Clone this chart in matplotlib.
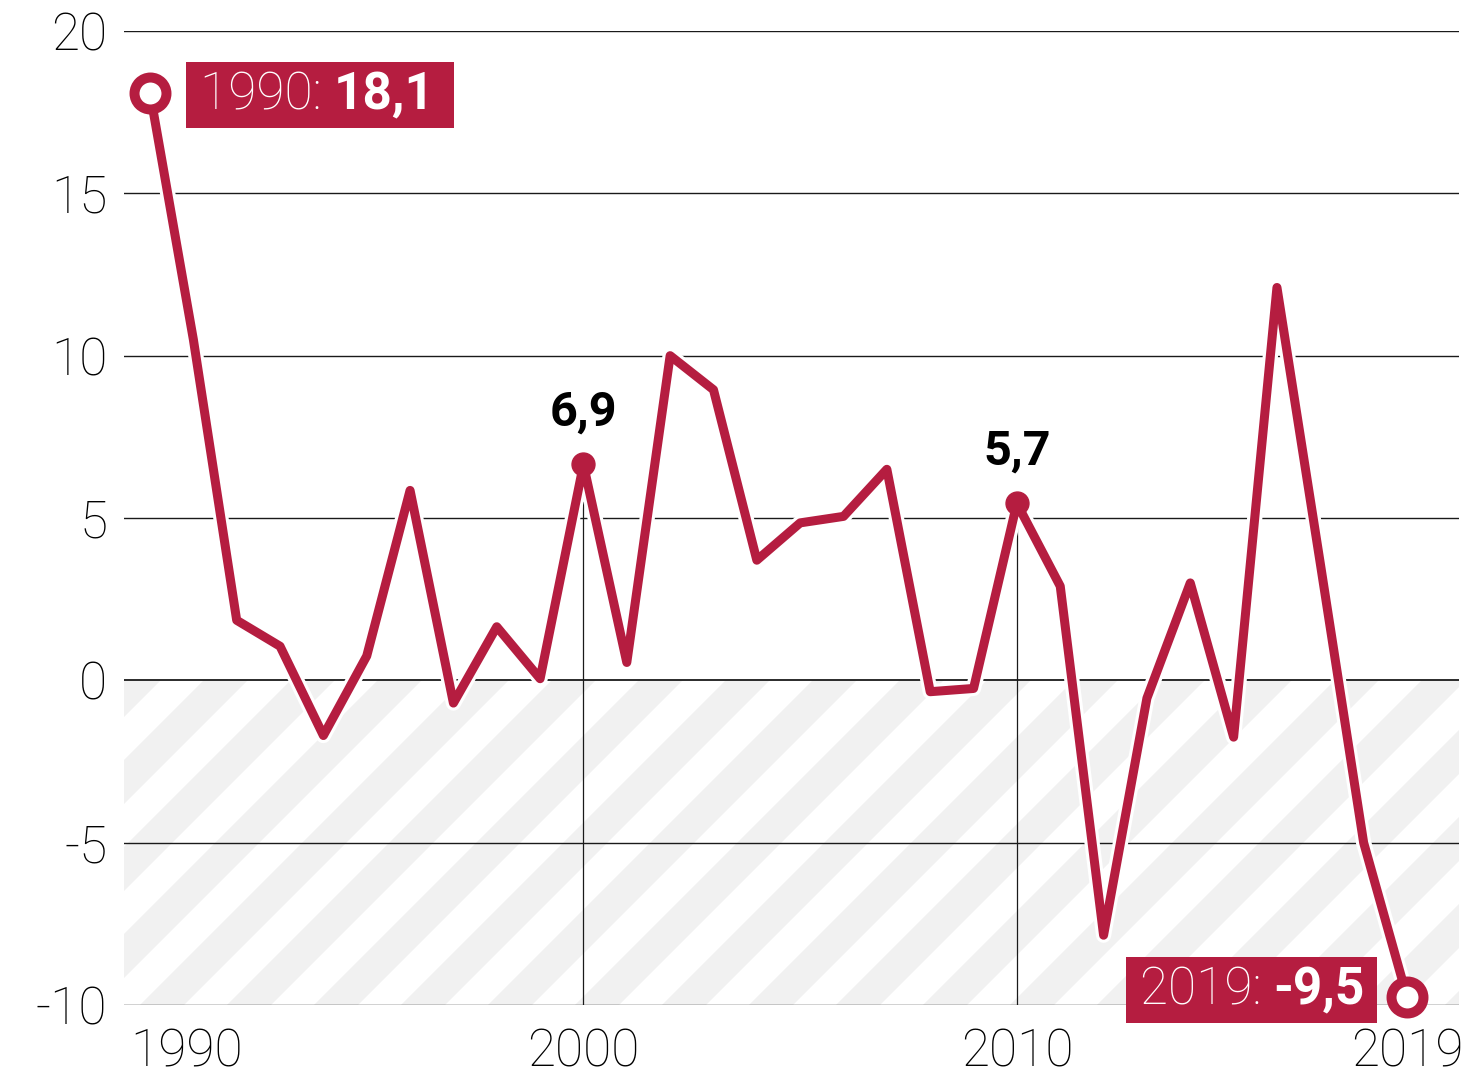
import matplotlib
matplotlib.use('Agg')
import matplotlib.pyplot as plt
import matplotlib.patheffects as pe
from matplotlib.patches import Rectangle
from matplotlib.collections import PolyCollection
from matplotlib.transforms import IdentityTransform, ScaledTranslation

# ---------------- data ----------------
years = list(range(1990, 2020))
values = [18.1, 10.5, 1.85, 1.05, -1.7, 0.75, 5.85, -0.7, 1.65, 0.05,
          6.65, 0.55, 10.0, 8.95, 3.7, 4.85, 5.05, 6.5, -0.35, -0.25,
          5.45, 2.9, -7.85, -0.55, 3.0, -1.75, 12.1, 3.6, -5.0, -9.75]
y_ticks = [-10, -5, 0, 5, 10, 15, 20]
x_ticks = [1990, 2000, 2010, 2019]
callout_years = [2000, 2010]
callout_labels = ['6,9', '5,7']
end_years = [1990, 2019]
end_prefix = ['1990: ', '2019: ']
end_value_text = ['18,1', '-9,5']

RED = '#B51D40'
GRID = '#1a1a1a'
HATCH = '#f1f1f1'
FAM = ['Roboto', 'DejaVu Sans']

W, H, DPI = 1469, 1075, 100
fig = plt.figure(figsize=(W / DPI, H / DPI), dpi=DPI)
fig.patch.set_facecolor('white')
ax_l, ax_r, ax_t, ax_b = 124, 1459, 31, 1005
ax = fig.add_axes([ax_l / W, (H - ax_b) / H, (ax_r - ax_l) / W, (ax_b - ax_t) / H])
XMIN, XMAX = 1989.40, 2020.2
ax.set_xlim(XMIN, XMAX)
ax.set_ylim(-10, 20)
for s in ax.spines.values():
    s.set_visible(False)
ax.set_facecolor('none')

val = dict(zip(years, values))

# ------------- hatched negative zone -------------
clip_rect = Rectangle((XMIN, -10), XMAX - XMIN, 10, facecolor='white',
                      edgecolor='none', zorder=0)
ax.add_patch(clip_rect)
fig.canvas.draw()
yb = ax.transData.transform((1990, -10))[1]
yz = ax.transData.transform((1990, 0))[1]
period = 87.0
gw = 44.0
hh = yz - yb
polys = []
c = 140.0 - period * 6
while c < ax_r + period:
    polys.append([(c, yb), (c + gw, yb), (c + gw + hh, yz), (c + hh, yz)])
    c += period
pc = PolyCollection(polys, facecolors=HATCH, edgecolors='none',
                    transform=IdentityTransform(), zorder=1)
ax.add_collection(pc)
pc.set_clip_path(clip_rect)

# ------------- grid -------------
for yv in y_ticks:
    ax.axhline(yv, color=GRID, lw=1.0 if yv != 0 else 1.3, zorder=2)

# vertical reference lines
ax.vlines(callout_years, -10, [val[y] for y in callout_years], color=GRID,
          lw=0.9, zorder=3)

# ------------- main line -------------
ax.plot(years, values, color=RED, lw=6.5, solid_joinstyle='round',
        solid_capstyle='round', zorder=4, clip_on=False,
        path_effects=[pe.Stroke(linewidth=11, foreground='white'), pe.Normal()])

ax.plot(callout_years, [val[y] for y in callout_years], 'o', ms=16.5,
        color=RED, zorder=5)
ax.plot(end_years, [val[y] for y in end_years], 'o', ms=23, mfc='white',
        mec=RED, mew=7.2, zorder=6, clip_on=False)

for yr, lab in zip(callout_years, callout_labels):
    ax.annotate(lab, (yr, val[yr]), xytext=(0, 39), textcoords='offset pixels',
                ha='center', va='baseline', fontsize=35, fontweight='bold',
                family=FAM, color='black', zorder=7)

# ------------- ticks -------------
ax.set_yticks(y_ticks)
ax.set_yticklabels([str(v) for v in y_ticks])
ax.set_xticks(x_ticks)
ax.set_xticklabels([str(v) for v in x_ticks])
ax.tick_params(axis='both', length=0, labelsize=37)
ax.tick_params(axis='y', pad=12)
ax.tick_params(axis='x', pad=16)
for t in ax.get_yticklabels() + ax.get_xticklabels():
    t.set_family(FAM)
    t.set_fontweight('light')
xl = ax.get_xticklabels()
xl[0].set_ha('left')
xl[0].set_transform(xl[0].get_transform() + ScaledTranslation(-20 / DPI, 0, fig.dpi_scale_trans))

# ------------- end labels -------------
boxes = []
t1 = ax.annotate(end_prefix[0], (end_years[0], val[end_years[0]]), xytext=(50, -17),
                 textcoords='offset pixels', ha='left', va='baseline', fontsize=37,
                 fontweight='light', family=FAM, color='white', zorder=9,
                 annotation_clip=False)
t2 = ax.annotate(end_value_text[0], xy=(1, 0), xycoords=t1, ha='left', va='bottom',
                 fontsize=37, fontweight='bold', family=FAM, color='white', zorder=9)
boxes.append((t1, t2, 14, 19, -17))
u2 = ax.annotate(end_value_text[1], (end_years[1], val[end_years[1]]), xytext=(-42, -8),
                 textcoords='offset pixels', ha='right', va='baseline', fontsize=37,
                 fontweight='bold', family=FAM, color='white', zorder=9,
                 annotation_clip=False)
u1 = ax.annotate(end_prefix[1], xy=(0, 0), xycoords=u2, ha='right', va='bottom',
                 fontsize=37, fontweight='light', family=FAM, color='white', zorder=9)
boxes.append((u1, u2, 14, 12, -8))

fig.canvas.draw()
r = fig.canvas.get_renderer()
for (a, b, lp, rp, dy), yr in zip(boxes, end_years):
    ea = a.get_window_extent(r)
    eb = b.get_window_extent(r)
    py = ax.transData.transform((yr, val[yr]))[1]
    base = py + dy
    left = ea.x0 - lp
    right = eb.x1 + rp
    rect = Rectangle((left, base - 18), right - left, 66, facecolor=RED,
                     edgecolor='none', transform=IdentityTransform(), zorder=8,
                     clip_on=False)
    ax.add_patch(rect)

fig.savefig('out.png', dpi=DPI, facecolor='white')
